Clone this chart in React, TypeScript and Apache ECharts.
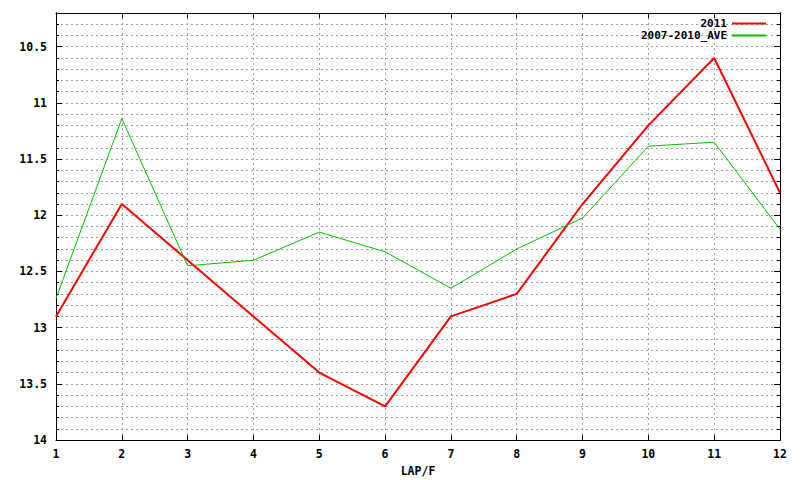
import React, { useEffect, useRef } from "react";
import * as echarts from "echarts";

const laps = [1, 2, 3, 4, 5, 6, 7, 8, 9, 10, 11, 12];
const s2011 = [12.9, 11.9, 12.4, 12.9, 13.4, 13.7, 12.9, 12.7, 11.9, 11.2, 10.6, 11.8];
const sAve = [12.74, 11.14, 12.45, 12.4, 12.15, 12.325, 12.65, 12.3, 12.025, 11.385, 11.35, 12.125];
const majorTicks = [10.5, 11, 11.5, 12, 12.5, 13, 13.5, 14];
const seriesNames = ["2011", "2007-2010_AVE"];
const xName = "LAP/F";

const FONT = "DejaVu Sans Mono";
const FS = 11.5;

export default function App() {
  const ref = useRef<HTMLDivElement>(null);
  useEffect(() => {
    document.body.style.margin = "0";
    const chart = echarts.init(ref.current!, null, { renderer: "svg" });
    const yBase = {
      type: "value" as const,
      min: 10.2,
      max: 14,
      inverse: true,
      axisLine: { show: true, lineStyle: { color: "#000", width: 1 } },
    };
    const textStyle = { fontFamily: FONT, fontSize: FS, fontWeight: "bold" as const, color: "#000" };
    const legendText = { ...textStyle, fontSize: 11, lineHeight: 11 };
    chart.setOption({
      animation: false,
      backgroundColor: "#fff",
      grid: { left: 56, right: 20, top: 13, bottom: 40, containLabel: false, outerBoundsMode: "none" },
      legend: [
        {
          data: [seriesNames[0]],
          right: 33,
          top: 18,
          align: "right",
          itemWidth: 34,
          itemHeight: 11,
          itemGap: 0,
          padding: 0,
          itemStyle: { opacity: 0 },
          textStyle: legendText,
        },
        {
          data: [seriesNames[1]],
          right: 33,
          top: 30,
          align: "right",
          itemWidth: 34,
          itemHeight: 11,
          itemGap: 0,
          padding: 0,
          itemStyle: { opacity: 0 },
          textStyle: legendText,
        },
      ],
      xAxis: [
        {
          type: "value",
          min: 1,
          max: 12,
          interval: 1,
          position: "bottom",
          name: xName,
          nameLocation: "middle",
          nameGap: 24,
          nameTextStyle: textStyle,
          axisLine: { show: true, lineStyle: { color: "#000", width: 1 } },
          axisTick: { show: true, inside: true, length: 5, lineStyle: { color: "#000" } },
          axisLabel: { ...textStyle, margin: 8 },
          splitLine: { show: true, lineStyle: { color: "#a0a0a0", type: [2, 3], width: 1 } },
        },
        {
          type: "value",
          min: 1,
          max: 12,
          interval: 1,
          position: "top",
          axisLine: { show: true, lineStyle: { color: "#000", width: 1 } },
          axisTick: { show: true, inside: true, length: 5, lineStyle: { color: "#000" } },
          axisLabel: { show: false },
          splitLine: { show: false },
        },
      ],
      yAxis: [
        {
          ...yBase,
          position: "left",
          interval: 0.1,
          axisTick: { show: true, inside: true, length: 3, lineStyle: { color: "#000" } },
          axisLabel: {
            ...textStyle,
            margin: 9,
            formatter: (v: number) => {
              const r = Math.round(v * 10);
              if (r % 5 !== 0 || r === 102) return "";
              return String(r / 10);
            },
          },
          splitLine: { show: true, lineStyle: { color: "#a0a0a0", type: [2, 3], width: 1 } },
        },
        {
          ...yBase,
          position: "left",
          interval: 0.1,
          axisTick: { show: true, inside: true, length: 6, customValues: majorTicks, lineStyle: { color: "#000" } },
          axisLabel: { show: false },
          splitLine: { show: false },
        },
        {
          ...yBase,
          position: "right",
          interval: 0.1,
          axisTick: { show: true, inside: true, length: 3, lineStyle: { color: "#000" } },
          axisLabel: { show: false },
          splitLine: { show: false },
        },
        {
          ...yBase,
          position: "right",
          interval: 0.1,
          axisTick: { show: true, inside: true, length: 6, customValues: majorTicks, lineStyle: { color: "#000" } },
          axisLabel: { show: false },
          splitLine: { show: false },
        },
      ],
      series: [
        {
          name: seriesNames[0],
          type: "line",
          xAxisIndex: 0,
          yAxisIndex: 0,
          symbol: "none",
          lineStyle: { color: "#ff0000", width: 2 },
          itemStyle: { color: "#ff0000" },
          data: laps.map((x, i) => [x, s2011[i]]),
        },
        {
          name: seriesNames[1],
          type: "line",
          xAxisIndex: 0,
          yAxisIndex: 0,
          symbol: "none",
          lineStyle: { color: "#00c000", width: 1 },
          itemStyle: { color: "#00c000" },
          data: laps.map((x, i) => [x, sAve[i]]),
        },
      ],
    });
    return () => chart.dispose();
  }, []);
  return <div ref={ref} style={{ width: 800, height: 480 }} />;
}
